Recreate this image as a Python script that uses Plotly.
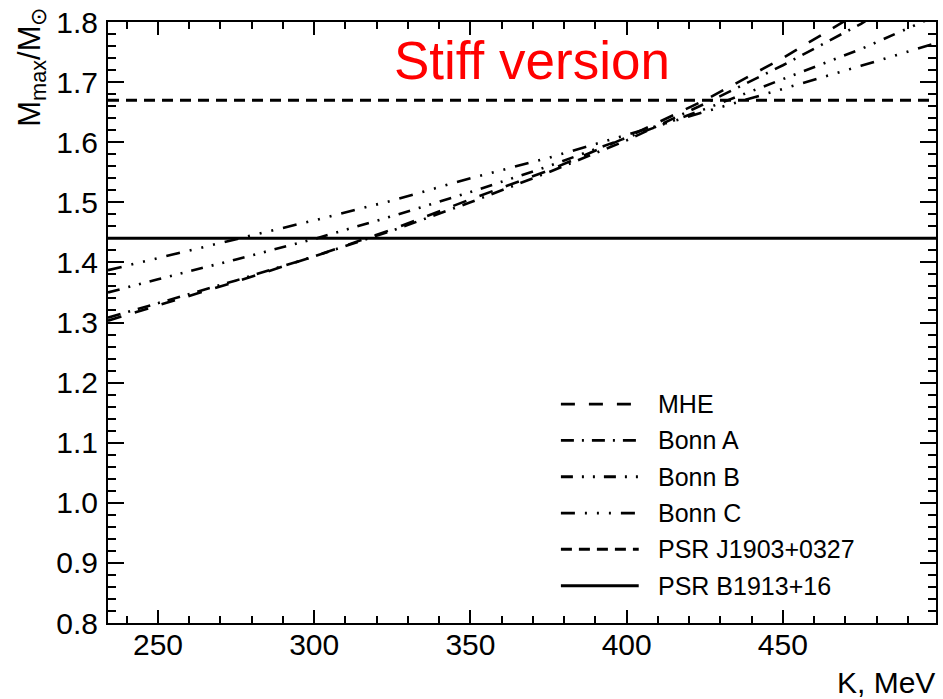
import plotly.graph_objects as go

# ---- data ----
K = [234, 250, 275, 300, 325, 350, 375, 400, 425, 450, 475, 499]
mhe = [1.303, 1.328, 1.368, 1.410, 1.455, 1.505, 1.553, 1.608, 1.670, 1.740, 1.818, 1.900]
bonn_a = [1.308, 1.332, 1.370, 1.410, 1.453, 1.500, 1.550, 1.603, 1.664, 1.728, 1.797, 1.875]
bonn_b = [1.350, 1.372, 1.405, 1.439, 1.477, 1.517, 1.560, 1.607, 1.655, 1.705, 1.755, 1.810]
bonn_c = [1.387, 1.407, 1.438, 1.470, 1.503, 1.540, 1.574, 1.612, 1.650, 1.688, 1.727, 1.765]
psr_j1903 = 1.67
psr_b1913 = 1.44

series_names = ["MHE", "Bonn A", "Bonn B", "Bonn C", "PSR J1903+0327", "PSR B1913+16"]
x_ticks = [250, 300, 350, 400, 450]
y_ticks = [0.8, 0.9, 1.0, 1.1, 1.2, 1.3, 1.4, 1.5, 1.6, 1.7, 1.8]

# ---- styles ----
dashes = [
    "14px,14px",
    "13px,8px,2px,8px",
    "12px,9px,2px,9px,2px,9px",
    "14px,10px,2px,10px,2px,10px,2px,10px",
    "11px,7px",
    "solid",
]
widths = [2.6, 2.6, 2.6, 2.6, 3, 3]

K_range = [234, 499]
series = [mhe, bonn_a, bonn_b, bonn_c,
          [psr_j1903, psr_j1903], [psr_b1913, psr_b1913]]
xs = [K, K, K, K, K_range, K_range]

fig = go.Figure()
for name, x, y, d, w in zip(series_names, xs, series, dashes, widths):
    fig.add_trace(go.Scatter(x=x, y=y, mode="lines", name=name,
                             line=dict(color="black", width=w, dash=d),
                             showlegend=False))

FONT = "Liberation Sans, Arial, sans-serif"

L, R, T, B = 108, 5, 19, 76
W, H = 943, 699
pw, ph = W - L - R, H - T - B

def px_x(p):
    return (p - L) / pw

def px_y(p):
    return (H - B - p) / ph

# ---- hand-made legend (long line samples like the reference) ----
leg_y0 = 403
leg_dy = 36.5
for i, (name, d, w) in enumerate(zip(series_names, dashes, widths)):
    yy = px_y(leg_y0 + i * leg_dy)
    fig.add_shape(type="line", xref="paper", yref="paper",
                  x0=px_x(562), x1=px_x(640), y0=yy, y1=yy,
                  line=dict(color="black", width=w if i >= 4 else 2.8, dash=d))
    fig.add_annotation(xref="paper", yref="paper", x=px_x(657), y=yy,
                       text=name, showarrow=False, xanchor="left", yanchor="middle",
                       font=dict(family=FONT, size=25, color="black"))

# ---- texts ----
fig.add_annotation(xref="paper", yref="paper", x=px_x(533), y=px_y(58),
                   text="Stiff version", showarrow=False,
                   xanchor="center", yanchor="middle",
                   font=dict(family=FONT, size=53, color="#ff0000"))
fig.add_annotation(xref="paper", yref="paper", x=px_x(31), y=px_y(3),
                   text="M<sub>max</sub>/M<sub>⊙</sub>", showarrow=False,
                   textangle=-90, xanchor="center", yanchor="top",
                   font=dict(family=FONT, size=31, color="black"))
fig.add_annotation(xref="paper", yref="paper", x=px_x(939), y=px_y(683),
                   text="K, MeV", showarrow=False,
                   xanchor="right", yanchor="middle",
                   font=dict(family=FONT, size=30, color="black"))

axis_common = dict(showline=True, linecolor="black", linewidth=2, mirror="allticks",
                   ticks="inside", tickcolor="black", tickwidth=2,
                   showgrid=False, zeroline=False,
                   tickfont=dict(family=FONT, size=30, color="black"))

fig.update_xaxes(range=K_range, tickvals=x_ticks, ticklen=13,
                 minor=dict(dtick=10, tick0=0, ticks="inside", ticklen=7,
                            tickwidth=1.5, tickcolor="black", showgrid=False),
                 ticklabelstandoff=-6, **axis_common)
fig.update_yaxes(range=[0.8, 1.8], tickvals=y_ticks, ticktext=[f"{v:.1f}" for v in y_ticks],
                 ticklen=16,
                 minor=dict(dtick=0.02, tick0=0, ticks="inside", ticklen=8,
                            tickwidth=1.5, tickcolor="black", showgrid=False),
                 ticklabelstandoff=2, **axis_common)

fig.update_layout(width=W, height=H, margin=dict(l=L, r=R, t=T, b=B),
                  paper_bgcolor="white", plot_bgcolor="white", showlegend=False)

fig.write_html("out.html")
